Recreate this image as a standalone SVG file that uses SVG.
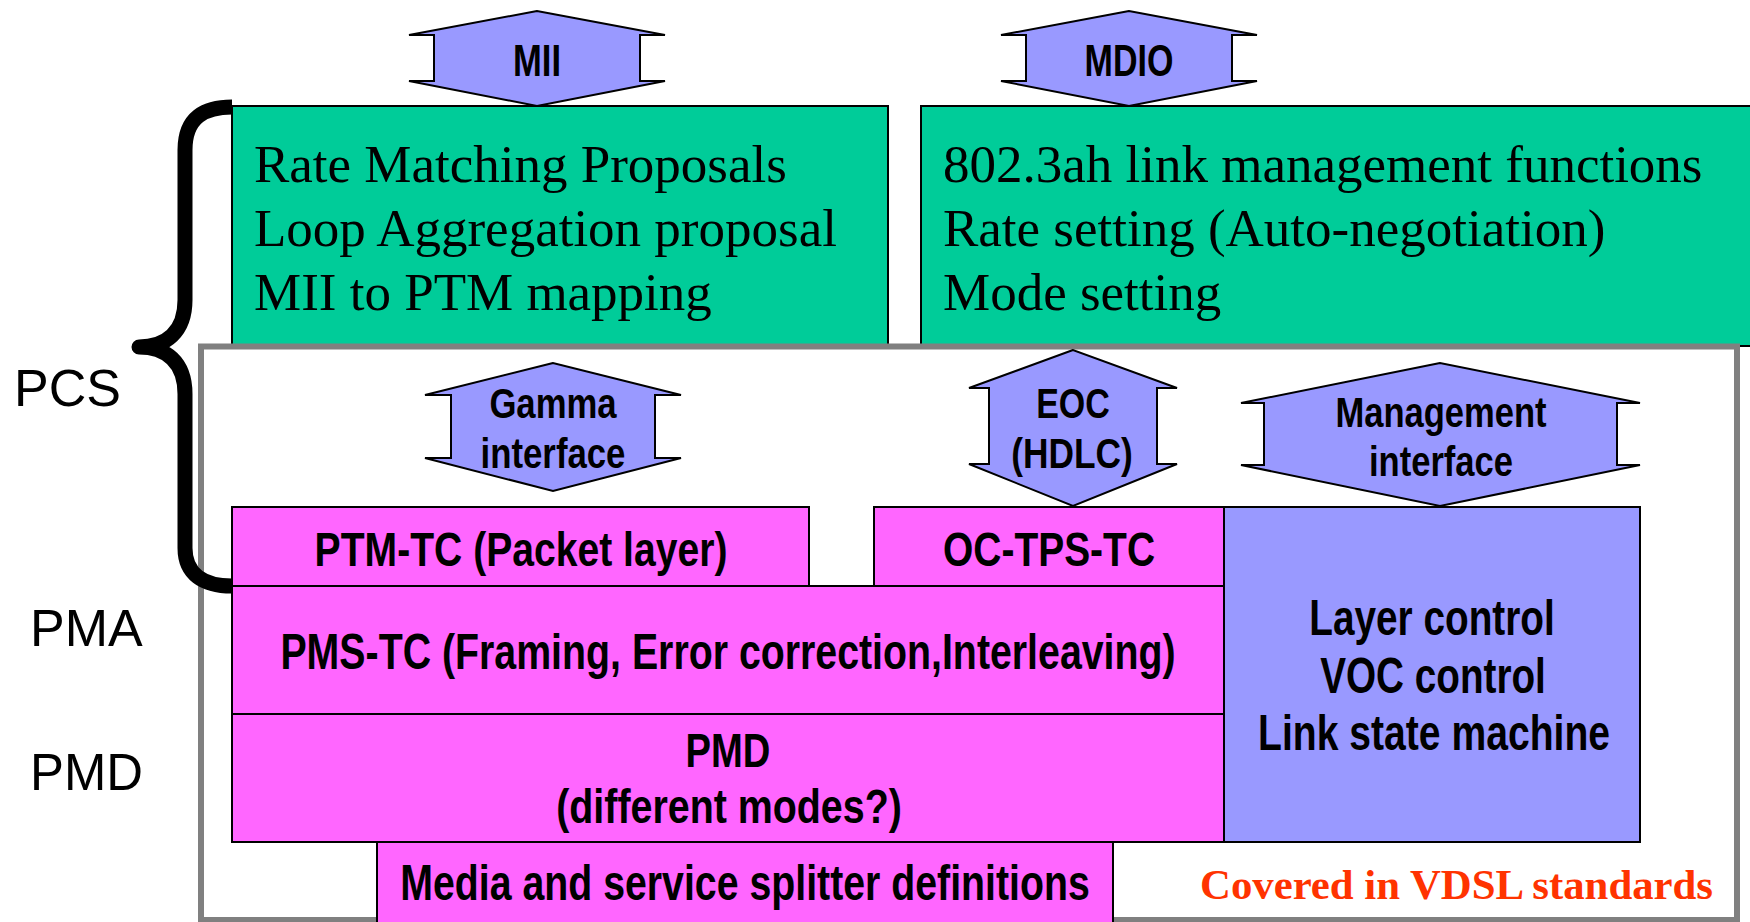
<svg xmlns="http://www.w3.org/2000/svg" width="1750" height="922" viewBox="0 0 1750 922">
<style>
.green{fill:#00CC99;stroke:#000;stroke-width:2}
.mag{fill:#FF66FF;stroke:#000;stroke-width:2}
.blue{fill:#9999FF;stroke:#000;stroke-width:2}
.serif{font-family:"Liberation Serif","Times New Roman",serif;font-size:53px;fill:#000}
.bc{font-family:"Liberation Sans Narrow","Liberation Sans",Arial,sans-serif;font-weight:bold;fill:#000;text-anchor:middle}
.lbl{font-family:"Liberation Sans",Arial,sans-serif;font-size:52px;fill:#000}
.red{font-family:"Liberation Serif","Times New Roman",serif;font-weight:bold;font-size:43px;fill:#FF3300}
</style>
<rect width="1750" height="922" fill="#fff"/>

<g id="green-left">
<rect class="green" x="232" y="106" width="656" height="240"/>
<text class="serif" x="254" y="182">Rate Matching Proposals</text>
<text class="serif" x="254" y="246">Loop Aggregation proposal</text>
<text class="serif" x="254" y="310">MII to PTM mapping</text>
</g>
<g id="green-right">
<rect class="green" x="921" y="106" width="840" height="240"/>
<text class="serif" x="943" y="182">802.3ah link management functions</text>
<text class="serif" x="943" y="246">Rate setting (Auto-negotiation)</text>
<text class="serif" x="943" y="310">Mode setting</text>
</g>

<g id="mii">
<path class="blue" d="M537,11 L409,35 L434,35 L434,81 L409,81 L537,106 L665,81 L640,81 L640,35 L665,35 Z"/>
<text class="bc" transform="translate(537,76) scale(0.8,1)" font-size="45" textLength="60" lengthAdjust="spacingAndGlyphs">MII</text>
</g>
<g id="mdio">
<path class="blue" d="M1129,11 L1001,35 L1026,35 L1026,81 L1001,81 L1129,106 L1257,81 L1232,81 L1232,35 L1257,35 Z"/>
<text class="bc" transform="translate(1129,76) scale(0.8,1)" font-size="45" textLength="111" lengthAdjust="spacingAndGlyphs">MDIO</text>
</g>

<g id="vdsl-frame">
<rect x="201" y="346.5" width="1536" height="573.5" fill="#fff" stroke="#808080" stroke-width="6"/>
</g>

<g id="gamma">
<path class="blue" d="M553,363 L425,395 L451,395 L451,458 L425,458 L553,491 L681,458 L655,458 L655,395 L681,395 Z"/>
<text class="bc" transform="translate(553,418) scale(0.8,1)" font-size="42" textLength="159" lengthAdjust="spacingAndGlyphs">Gamma</text>
<text class="bc" transform="translate(553,468) scale(0.8,1)" font-size="42" textLength="181" lengthAdjust="spacingAndGlyphs">interface</text>
</g>
<g id="eoc">
<path class="blue" d="M1073,350 L969,388 L989,388 L989,464 L969,464 L1073,506 L1177,464 L1157,464 L1157,388 L1177,388 Z"/>
<text class="bc" transform="translate(1073,418) scale(0.8,1)" font-size="42" textLength="92" lengthAdjust="spacingAndGlyphs">EOC</text>
<text class="bc" transform="translate(1072,468) scale(0.8,1)" font-size="42" textLength="152" lengthAdjust="spacingAndGlyphs">(HDLC)</text>
</g>
<g id="mgmt-if">
<path class="blue" d="M1440,363 L1241,403 L1264,403 L1264,465 L1241,465 L1440,506 L1640,465 L1617,465 L1617,403 L1640,403 Z"/>
<text class="bc" transform="translate(1441,427) scale(0.8,1)" font-size="42" textLength="264" lengthAdjust="spacingAndGlyphs">Management</text>
<text class="bc" transform="translate(1441,476) scale(0.8,1)" font-size="42" textLength="180" lengthAdjust="spacingAndGlyphs">interface</text>
</g>

<g id="ptm-tc">
<rect class="mag" x="232" y="507" width="577" height="79"/>
<text class="bc" transform="translate(521,566) scale(0.8,1)" font-size="49" textLength="516" lengthAdjust="spacingAndGlyphs">PTM-TC (Packet layer)</text>
</g>
<g id="oc-tps-tc">
<rect class="mag" x="874" y="507" width="350" height="79"/>
<text class="bc" transform="translate(1049,566) scale(0.8,1)" font-size="49" textLength="265" lengthAdjust="spacingAndGlyphs">OC-TPS-TC</text>
</g>
<g id="pms-tc">
<rect class="mag" x="232" y="586" width="992" height="128"/>
<text class="bc" transform="translate(728,669) scale(0.8,1)" font-size="50" textLength="1119" lengthAdjust="spacingAndGlyphs">PMS-TC (Framing, Error correction,Interleaving)</text>
</g>
<g id="pmd">
<rect class="mag" x="232" y="714" width="992" height="128"/>
<text class="bc" transform="translate(728,767) scale(0.8,1)" font-size="49" textLength="106" lengthAdjust="spacingAndGlyphs">PMD</text>
<text class="bc" transform="translate(729,823) scale(0.8,1)" font-size="49" textLength="432" lengthAdjust="spacingAndGlyphs">(different modes?)</text>
</g>
<g id="layer-control">
<rect class="blue" x="1224" y="507" width="416" height="335"/>
<text class="bc" transform="translate(1432,635) scale(0.8,1)" font-size="50" textLength="307" lengthAdjust="spacingAndGlyphs">Layer control</text>
<text class="bc" transform="translate(1433,693) scale(0.8,1)" font-size="50" textLength="282" lengthAdjust="spacingAndGlyphs">VOC control</text>
<text class="bc" transform="translate(1434,750) scale(0.8,1)" font-size="50" textLength="440" lengthAdjust="spacingAndGlyphs">Link state machine</text>
</g>
<g id="media">
<rect class="mag" x="377" y="842" width="736" height="100"/>
<text class="bc" transform="translate(745,900) scale(0.8,1)" font-size="50" textLength="862" lengthAdjust="spacingAndGlyphs">Media and service splitter definitions</text>
</g>

<g id="covered">
<text class="red" x="1200" y="899" textLength="513" lengthAdjust="spacingAndGlyphs">Covered in VDSL standards</text>
</g>

<g id="layer-labels">
<text class="lbl" x="14" y="406">PCS</text>
<text class="lbl" x="30" y="646">PMA</text>
<text class="lbl" x="30" y="790" textLength="113" lengthAdjust="spacingAndGlyphs">PMD</text>
</g>

<g id="connectors">
<path d="M232,107 C205,107 185,117 185,150 L185,300 C185,332 166,347 139,347 C166,347 185,362 185,394 L185,548 C185,574 203,586 232,586" fill="none" stroke="#000" stroke-width="15" stroke-linejoin="round"/>
</g>
</svg>
